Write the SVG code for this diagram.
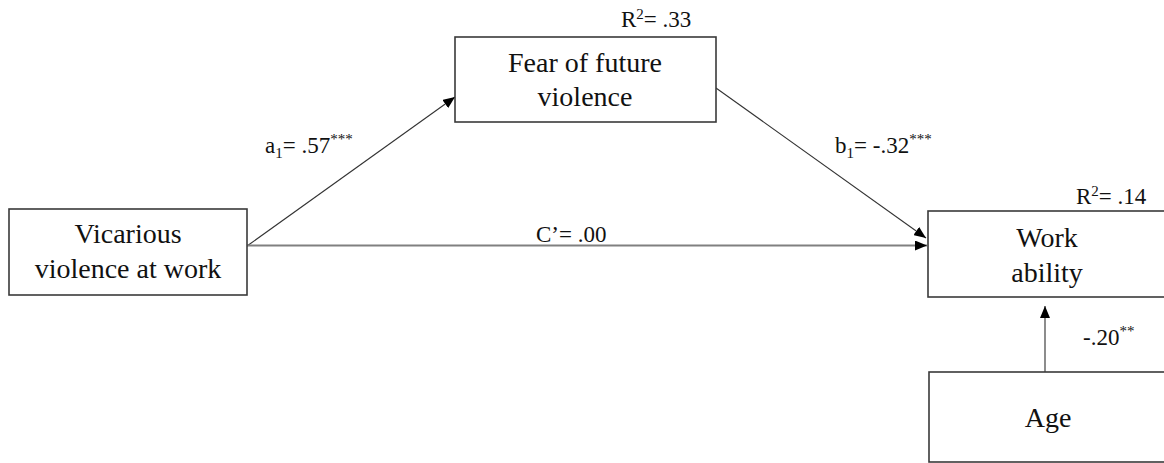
<svg xmlns="http://www.w3.org/2000/svg" width="1164" height="463" viewBox="0 0 1164 463" font-family="'Liberation Serif', 'DejaVu Serif', serif">
<defs>
<style>
.box{fill:#fff;stroke:#3a3a3a;stroke-width:1.6}
.t{font-family:'Liberation Serif','DejaVu Serif',serif;font-size:28px;fill:#111;text-anchor:middle}
.l{font-family:'Liberation Serif','DejaVu Serif',serif;font-size:23px;fill:#111}
.sm{font-size:15px}
.thin{stroke:#333;stroke-width:1.1;fill:none}
.gray{stroke:#808080;stroke-width:1.8;fill:none}
</style>
<marker id="ah" viewBox="0 0 12 10" refX="12" refY="5" markerWidth="12" markerHeight="10" markerUnits="userSpaceOnUse" orient="auto">
<path d="M0,0 L12,5 L0,10 z" fill="#000"/>
</marker>
</defs>
<rect width="1164" height="463" fill="#fff"/>
<g id="connectors">
<line class="thin" x1="247" y1="246" x2="455" y2="97" marker-end="url(#ah)"/>
<line class="thin" x1="716" y1="88" x2="926" y2="238" marker-end="url(#ah)"/>
<line class="gray" x1="247" y1="245.5" x2="927" y2="245.5" marker-end="url(#ah)"/>
<line class="gray" x1="1045" y1="372" x2="1045" y2="306" marker-end="url(#ah)"/>
</g>
<g id="node-vicarious">
<rect class="box" x="9" y="209" width="238" height="86"/>
<text class="t" x="128" y="243">Vicarious</text>
<text class="t" x="128" y="278">violence at work</text>
</g>
<g id="node-fear">
<rect class="box" x="455" y="37" width="261" height="85"/>
<text class="t" x="585" y="72">Fear of future</text>
<text class="t" x="585" y="106">violence</text>
</g>
<g id="node-work">
<rect class="box" x="928" y="211" width="240" height="86"/>
<text class="t" x="1047" y="247">Work</text>
<text class="t" x="1047" y="282">ability</text>
</g>
<g id="node-age">
<rect class="box" x="929" y="372" width="240" height="90"/>
<text class="t" x="1048" y="427">Age</text>
</g>
<g id="labels">
<text class="l" x="621" y="27">R<tspan class="sm" dy="-8">2</tspan><tspan dy="8">= .33</tspan></text>
<text class="l" x="1076" y="204">R<tspan class="sm" dy="-8">2</tspan><tspan dy="8">= .14</tspan></text>
<text class="l" x="265" y="153">a<tspan class="sm" dy="5">1</tspan><tspan dy="-5">= .57</tspan><tspan class="sm" dy="-9">***</tspan></text>
<text class="l" x="835" y="153">b<tspan class="sm" dy="5">1</tspan><tspan dy="-5">= -.32</tspan><tspan class="sm" dy="-9">***</tspan></text>
<text class="l" x="536" y="242">C’= .00</text>
<text class="l" x="1083" y="345">-.20<tspan class="sm" dy="-9">**</tspan></text>
</g>
</svg>
